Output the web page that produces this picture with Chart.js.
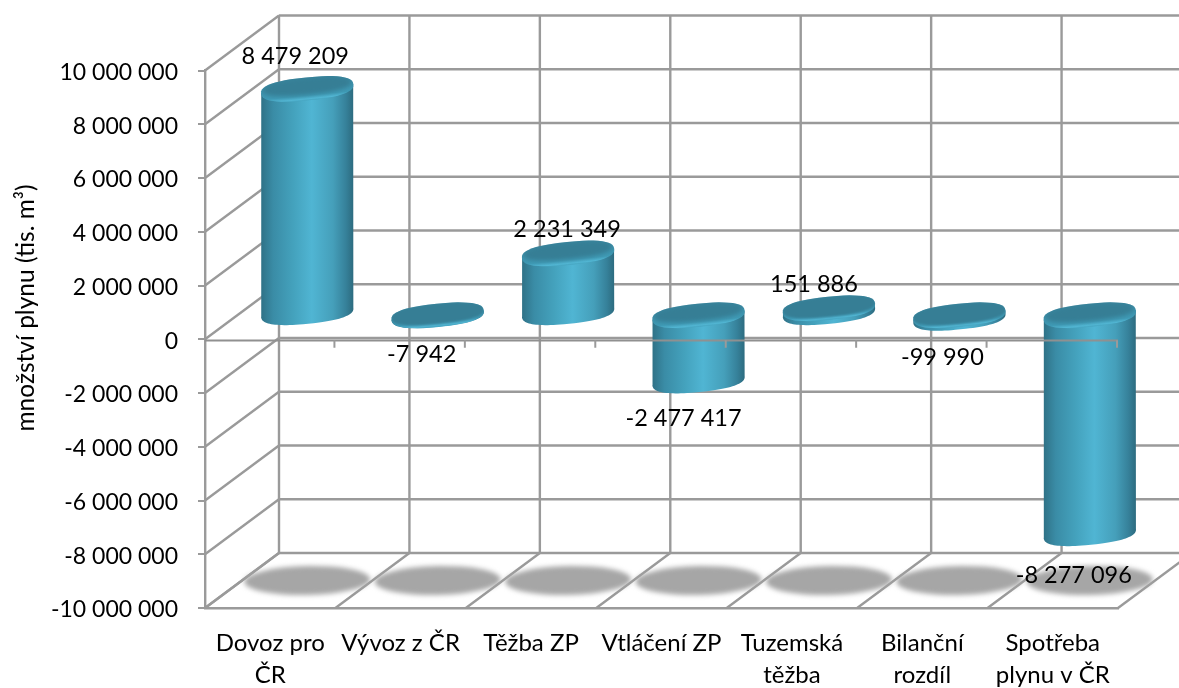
<!DOCTYPE html>
<html>
<head>
<meta charset="utf-8">
<style>html,body{margin:0;padding:0;background:#fff;overflow:hidden}canvas{display:block}</style>
<script src="https://cdn.jsdelivr.net/npm/chart.js@4"></script>
</head>
<body>
<canvas id="c" width="1179" height="688"></canvas>
<script>
const categories = [["Dovoz pro","ČR"],["Vývoz z ČR"],["Těžba ZP"],["Vtláčení ZP"],["Tuzemská","těžba"],["Bilanční","rozdíl"],["Spotřeba","plynu v ČR"]];
const values = [8479209,-7942,2231349,-2477417,151886,-99990,-8277096];
const axisTitle = "množství plynu (tis. m³)";
const labelShiftX = [-12,-16,-1,-15,-15,-17,-16];
const labelShiftY = [-55,15,-50,13,-51,15,14];

const GRID = "#9a9a9a";
const GRID_W = 2.4;
const FONT = "Lato, Carlito, sans-serif";
const DX = 74, DY = -55;
const fmt = v => { const s = Math.abs(v).toString().replace(/\B(?=(\d{3})+(?!\d))/g," "); return (v<0?"-":"")+s; };

function line(ctx,x1,y1,x2,y2,w,col){ctx.beginPath();ctx.moveTo(x1,y1);ctx.lineTo(x2,y2);ctx.lineWidth=w||GRID_W;ctx.strokeStyle=col||GRID;ctx.stroke();}

// rounded ellipse outline: traces from angle t0 to t1 in the tilted frame
function trace(ctx,cx,cy,a,b,rot,t0,t1){
  const p=2.5, steps=48, c=Math.cos(rot), s=Math.sin(rot);
  for(let i=0;i<=steps;i++){
    const t=t0+(t1-t0)*i/steps, ct=Math.cos(t), st=Math.sin(t);
    const ex=a*Math.sign(ct)*Math.pow(Math.abs(ct),2/p), ey=b*Math.sign(st)*Math.pow(Math.abs(st),2/p);
    ctx.lineTo(cx+ex*c-ey*s,cy+ex*s+ey*c);
  }
}

function topCap(ctx,cx,cy,a,b,rot,flat){
  ctx.save();ctx.translate(cx,cy);ctx.rotate(rot);
  const g=ctx.createLinearGradient(0,-b,0,b);
  g.addColorStop(0,"#3a869e");g.addColorStop(0.78,"#3f9ab5");
  g.addColorStop(0.93,"#52b6d3");g.addColorStop(1,"#45a4c0");
  ctx.fillStyle=g;ctx.beginPath();trace(ctx,0,0,a,b,0,0,Math.PI*2);ctx.closePath();ctx.fill();
  ctx.clip();
  ctx.filter=flat?"blur(0.8px)":"blur(2px)";
  ctx.fillStyle="#367e95";ctx.beginPath();
  if(flat) trace(ctx,0,-b*0.12,a*1.0,b*0.86,0,0,Math.PI*2);
  else trace(ctx,0,-b*0.24,a*0.95,b*0.72,0,0,Math.PI*2);
  ctx.closePath();ctx.fill();
  ctx.restore();
}

const scene = {
  id:"scene",
  beforeDatasetsDraw(chart){
    const {ctx,scales:{x,y}}=chart;
    const n=categories.length, step=x.width/n, top=y.top, bot=y.bottom;
    ctx.save();
    y.ticks.forEach(t=>{
      const p=y.getPixelForValue(t.value);
      line(ctx,x.left+DX,p+DY,x.right+DX,p+DY);
      line(ctx,x.left,p,x.left+DX,p+DY);
    });
    for(let i=0;i<=n;i++){
      const px=x.left+i*step;
      line(ctx,px+DX,top+DY,px+DX,bot+DY);
      line(ctx,px,bot,px+DX,bot+DY);
    }
    chart.getDatasetMeta(0).data.forEach(el=>{
      ctx.save();
      ctx.filter="blur(2.5px)";
      ctx.fillStyle="#a6a6a6";
      ctx.beginPath();
      ctx.ellipse(el.x+DX/2,bot+DY/2,63,14.5,-0.02,0,Math.PI*2);
      ctx.fill();
      ctx.restore();
    });
    ctx.restore();
  },
  afterDatasetsDraw(chart){
    const {ctx,scales:{x,y}}=chart;
    const n=categories.length, step=x.width/n, y0=y.getPixelForValue(0);
    const meta=chart.getDatasetMeta(0);
    ctx.save();
    meta.data.forEach((el,i)=>{
      const v=values[i];
      const cx=el.x+DX/2, a=el.width/2+0.4, b=11.5, rot=-0.1;
      const off=v>=0?-27:-24;
      const yBase=y0+off;
      const yEnd=yBase+(y.getPixelForValue(v)-y0)*0.98;
      const yTop=Math.min(yBase,yEnd), yBot=Math.max(yBase,yEnd);
      const hw=el.width/2, sh=4.5;
      const g=ctx.createLinearGradient(cx-hw,0,cx+hw,0);
      g.addColorStop(0,"#2f7287");g.addColorStop(0.13,"#3a8ca6");
      g.addColorStop(0.35,"#44a2bd");g.addColorStop(0.55,"#50b5d3");
      g.addColorStop(0.78,"#459fba");g.addColorStop(0.92,"#36819a");g.addColorStop(1,"#2d6c80");
      ctx.fillStyle=g;
      ctx.beginPath();
      ctx.moveTo(cx-hw,yTop+sh);
      ctx.lineTo(cx-hw,yBot+sh);
      trace(ctx,cx,yBot,a,b,rot,Math.PI,0);
      ctx.lineTo(cx+hw,yTop-sh);
      ctx.closePath();
      ctx.fill();
      topCap(ctx,cx,yTop,a,b,rot,Math.abs(yBot-yTop)<5);
    });
    line(ctx,x.left,y0+1.2,x.right,y0+1.2,2,"#909090");
    for(let i=1;i<=n;i++){
      const px=x.left+i*step-1;
      line(ctx,px,y0+1,px,y0+8.5,2,GRID);
    }
    ctx.fillStyle="#000";ctx.font="23.5px "+FONT;ctx.textAlign="center";ctx.textBaseline="middle";
    meta.data.forEach((el,i)=>{
      ctx.fillText(fmt(values[i]),el.x+DX/2+labelShiftX[i],y.getPixelForValue(values[i])+labelShiftY[i]);
    });
    ctx.save();
    ctx.translate(26,308);ctx.rotate(-Math.PI/2);
    ctx.font="24.5px "+FONT;
    ctx.fillText(axisTitle,0,0);
    ctx.restore();
    ctx.restore();
  }
};

new Chart(document.getElementById("c"),{
  type:"bar",
  data:{labels:categories,datasets:[{data:values,backgroundColor:"rgba(0,0,0,0)",borderWidth:0,barPercentage:0.705,categoryPercentage:1}]},
  plugins:[scene],
  options:{
    responsive:false,animation:false,
    layout:{padding:{top:70.5,right:61,left:0,bottom:0}},
    plugins:{legend:{display:false},tooltip:{enabled:false}},
    scales:{
      x:{
        afterFit:s=>{s.height=80;},
        grid:{display:false},
        border:{display:true,color:GRID,width:GRID_W},
        ticks:{color:"#000",font:{family:FONT,size:24,lineHeight:1.34},maxRotation:0,minRotation:0,autoSkip:false,padding:11}
      },
      y:{
        min:-10000000,max:10000000,
        afterFit:s=>{s.width=205;},
        grid:{drawOnChartArea:false,drawTicks:true,tickLength:7,color:GRID,lineWidth:2},
        border:{display:true,color:GRID,width:GRID_W},
        ticks:{stepSize:2000000,color:"#000",font:{family:FONT,size:23},padding:20,labelOffset:2,callback:v=>fmt(v)}
      }
    }
  }
});
</script>
</body>
</html>
